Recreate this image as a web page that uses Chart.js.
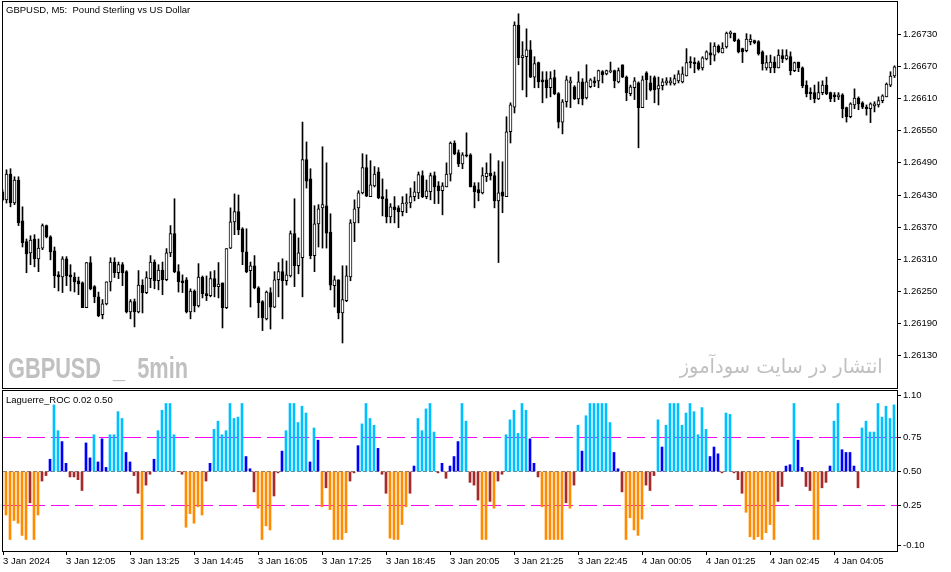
<!DOCTYPE html>
<html>
<head>
<meta charset="utf-8">
<title>GBPUSD M5 - Laguerre ROC</title>
<script src="https://cdn.jsdelivr.net/npm/chart.js@4.4.1/dist/chart.umd.min.js"></script>
<style>
  html, body { margin: 0; padding: 0; background: #fff; }
  #wrap { position: relative; width: 951px; height: 572px; overflow: hidden; background: #fff; }
  canvas { position: absolute; left: 0; }
  #priceChart { top: 0; }
  #rocChart { top: 389px; }
  .txt { position: absolute; white-space: nowrap; pointer-events: none; z-index: 2; }
  #title { left: 6px; top: 5px; font: 9.5px/10px "Liberation Sans", Arial, sans-serif; color: #000; }
  #rocTitle { left: 6px; top: 395px; font: 9.5px/10px "Liberation Sans", Arial, sans-serif; color: #000; }
  #mark { left: 8px; top: 354px; font: bold 29px/29px "Liberation Sans", Arial, sans-serif; color: #c0c0c0;
          word-spacing: 8px; transform-origin: left top; }
  #markFa { right: 68px; top: 356px; font: 20px/20px "DejaVu Sans", sans-serif; color: #c0c0c0;
            direction: rtl; transform-origin: right top; }
</style>
</head>
<body>
<div id="wrap">
  <canvas id="priceChart" width="951" height="390"></canvas>
  <canvas id="rocChart" width="951" height="183"></canvas>
  <div class="txt" id="title">GBPUSD, M5:&nbsp; Pound Sterling vs US Dollar</div>
  <div class="txt" id="rocTitle">Laguerre_ROC 0.02 0.50</div>
  <div class="txt" id="mark">GBPUSD _ 5min</div>
  <div class="txt" id="markFa" dir="rtl">انتشار در سایت سودآموز</div>
</div>
<script>
// M5 candles, 3 Jan 2024 10:45 -> 4 Jan 05:20
const openPx = [
  1.26436, 1.26421, 1.26469, 1.26415, 1.26458, 1.26382, 1.26343, 1.26322, 1.26348, 1.26311,
  1.26331, 1.26373, 1.26352, 1.26326, 1.26281, 1.26277, 1.26311, 1.26281, 1.26277, 1.26270,
  1.26266, 1.26220, 1.26304, 1.26259, 1.26240, 1.26207, 1.26227, 1.26268, 1.26305, 1.26285,
  1.26300, 1.26287, 1.26212, 1.26231, 1.26212, 1.26262, 1.26248, 1.26274, 1.26305, 1.26270,
  1.26290, 1.26272, 1.26322, 1.26358, 1.26287, 1.26270, 1.26272, 1.26212, 1.26251, 1.26223,
  1.26277, 1.26246, 1.26242, 1.26274, 1.26259, 1.26266, 1.26220, 1.26331, 1.26380, 1.26399,
  1.26367, 1.26324, 1.26289, 1.26298, 1.26257, 1.26231, 1.26199, 1.26248, 1.26221, 1.26272,
  1.26287, 1.26270, 1.26279, 1.26358, 1.26298, 1.26313, 1.26496, 1.26460, 1.26317, 1.26376,
  1.26406, 1.26410, 1.26361, 1.26261, 1.26272, 1.26210, 1.26233, 1.26277, 1.26378, 1.26406,
  1.26434, 1.26481, 1.26427, 1.26447, 1.26473, 1.26427, 1.26423, 1.26389, 1.26408, 1.26406,
  1.26399, 1.26414, 1.26415, 1.26427, 1.26434, 1.26466, 1.26427, 1.26436, 1.26466, 1.26447,
  1.26438, 1.26445, 1.26469, 1.26527, 1.26509, 1.26488, 1.26505, 1.26505, 1.26447, 1.26440,
  1.26434, 1.26464, 1.26471, 1.26466, 1.26419, 1.26436, 1.26427, 1.26548, 1.26594, 1.26747,
  1.26686, 1.26688, 1.26701, 1.26650, 1.26677, 1.26645, 1.26645, 1.26630, 1.26649, 1.26619,
  1.26566, 1.26604, 1.26639, 1.26632, 1.26609, 1.26641, 1.26611, 1.26632, 1.26643, 1.26643,
  1.26660, 1.26656, 1.26660, 1.26662, 1.26641, 1.26673, 1.26650, 1.26619, 1.26630, 1.26639,
  1.26593, 1.26658, 1.26639, 1.26649, 1.26628, 1.26634, 1.26639, 1.26639, 1.26637, 1.26643,
  1.26641, 1.26652, 1.26678, 1.26678, 1.26677, 1.26667, 1.26684, 1.26695, 1.26691, 1.26708,
  1.26695, 1.26706, 1.26731, 1.26732, 1.26719, 1.26703, 1.26699, 1.26716, 1.26718, 1.26716,
  1.26697, 1.26667, 1.26667, 1.26678, 1.26667, 1.26690, 1.26684, 1.26688, 1.26662, 1.26678,
  1.26667, 1.26635, 1.26622, 1.26621, 1.26609, 1.26621, 1.26635, 1.26621, 1.26617, 1.26613,
  1.26617, 1.26593, 1.26576, 1.26598, 1.26611, 1.26602, 1.26594, 1.26591, 1.26596, 1.26598,
  1.26606, 1.26613, 1.26635, 1.26652
];
const highPx = [
  1.26440, 1.26477, 1.26479, 1.26464, 1.26464, 1.26408, 1.26348, 1.26354, 1.26356, 1.26348,
  1.26376, 1.26374, 1.26354, 1.26333, 1.26287, 1.26315, 1.26315, 1.26300, 1.26285, 1.26277,
  1.26268, 1.26304, 1.26315, 1.26261, 1.26249, 1.26235, 1.26268, 1.26313, 1.26313, 1.26305,
  1.26304, 1.26289, 1.26235, 1.26236, 1.26289, 1.26272, 1.26287, 1.26317, 1.26309, 1.26300,
  1.26305, 1.26330, 1.26373, 1.26423, 1.26300, 1.26281, 1.26276, 1.26255, 1.26253, 1.26302,
  1.26279, 1.26279, 1.26287, 1.26289, 1.26304, 1.26266, 1.26330, 1.26406, 1.26432, 1.26430,
  1.26369, 1.26367, 1.26305, 1.26317, 1.26259, 1.26233, 1.26251, 1.26257, 1.26287, 1.26304,
  1.26311, 1.26307, 1.26363, 1.26423, 1.26350, 1.26566, 1.26529, 1.26479, 1.26410, 1.26412,
  1.26520, 1.26490, 1.26395, 1.26279, 1.26272, 1.26298, 1.26298, 1.26384, 1.26421, 1.26438,
  1.26507, 1.26505, 1.26494, 1.26483, 1.26481, 1.26460, 1.26440, 1.26414, 1.26427, 1.26410,
  1.26427, 1.26432, 1.26443, 1.26455, 1.26473, 1.26475, 1.26458, 1.26471, 1.26473, 1.26455,
  1.26453, 1.26490, 1.26529, 1.26531, 1.26514, 1.26509, 1.26546, 1.26507, 1.26453, 1.26453,
  1.26481, 1.26490, 1.26507, 1.26473, 1.26494, 1.26492, 1.26576, 1.26602, 1.26753, 1.26768,
  1.26716, 1.26740, 1.26718, 1.26688, 1.26678, 1.26660, 1.26660, 1.26660, 1.26663, 1.26621,
  1.26608, 1.26652, 1.26650, 1.26634, 1.26660, 1.26647, 1.26673, 1.26647, 1.26650, 1.26663,
  1.26662, 1.26663, 1.26678, 1.26663, 1.26667, 1.26673, 1.26652, 1.26635, 1.26649, 1.26641,
  1.26652, 1.26660, 1.26652, 1.26652, 1.26650, 1.26647, 1.26649, 1.26649, 1.26654, 1.26662,
  1.26669, 1.26703, 1.26688, 1.26686, 1.26680, 1.26688, 1.26699, 1.26714, 1.26714, 1.26710,
  1.26714, 1.26734, 1.26736, 1.26732, 1.26721, 1.26704, 1.26731, 1.26729, 1.26719, 1.26718,
  1.26699, 1.26690, 1.26691, 1.26688, 1.26701, 1.26701, 1.26701, 1.26697, 1.26678, 1.26678,
  1.26669, 1.26643, 1.26630, 1.26635, 1.26641, 1.26643, 1.26650, 1.26622, 1.26621, 1.26621,
  1.26619, 1.26594, 1.26602, 1.26628, 1.26613, 1.26604, 1.26598, 1.26602, 1.26604, 1.26613,
  1.26617, 1.26639, 1.26660, 1.26671
];
const lowPx = [
  1.26419, 1.26415, 1.26408, 1.26412, 1.26373, 1.26333, 1.26285, 1.26300, 1.26296, 1.26287,
  1.26328, 1.26350, 1.26309, 1.26257, 1.26251, 1.26248, 1.26261, 1.26251, 1.26249, 1.26244,
  1.26220, 1.26220, 1.26253, 1.26229, 1.26203, 1.26199, 1.26225, 1.26251, 1.26276, 1.26274,
  1.26261, 1.26210, 1.26199, 1.26184, 1.26210, 1.26210, 1.26246, 1.26257, 1.26255, 1.26253,
  1.26244, 1.26270, 1.26315, 1.26285, 1.26249, 1.26248, 1.26210, 1.26199, 1.26212, 1.26221,
  1.26238, 1.26233, 1.26240, 1.26240, 1.26238, 1.26182, 1.26218, 1.26330, 1.26356, 1.26356,
  1.26300, 1.26285, 1.26221, 1.26255, 1.26201, 1.26177, 1.26197, 1.26180, 1.26220, 1.26240,
  1.26199, 1.26262, 1.26277, 1.26259, 1.26283, 1.26240, 1.26443, 1.26311, 1.26287, 1.26333,
  1.26331, 1.26331, 1.26253, 1.26221, 1.26199, 1.26154, 1.26231, 1.26270, 1.26343, 1.26378,
  1.26432, 1.26427, 1.26427, 1.26445, 1.26423, 1.26391, 1.26378, 1.26378, 1.26378, 1.26369,
  1.26391, 1.26397, 1.26406, 1.26419, 1.26423, 1.26425, 1.26423, 1.26421, 1.26414, 1.26414,
  1.26393, 1.26445, 1.26456, 1.26505, 1.26483, 1.26479, 1.26501, 1.26445, 1.26406, 1.26419,
  1.26432, 1.26455, 1.26458, 1.26406, 1.26304, 1.26397, 1.26427, 1.26527, 1.26583, 1.26673,
  1.26626, 1.26613, 1.26649, 1.26630, 1.26630, 1.26602, 1.26611, 1.26613, 1.26617, 1.26555,
  1.26544, 1.26594, 1.26593, 1.26608, 1.26600, 1.26598, 1.26609, 1.26630, 1.26632, 1.26630,
  1.26639, 1.26654, 1.26658, 1.26630, 1.26639, 1.26649, 1.26606, 1.26615, 1.26608, 1.26518,
  1.26593, 1.26608, 1.26624, 1.26602, 1.26598, 1.26626, 1.26635, 1.26635, 1.26635, 1.26639,
  1.26639, 1.26652, 1.26667, 1.26658, 1.26663, 1.26663, 1.26682, 1.26673, 1.26680, 1.26695,
  1.26695, 1.26704, 1.26723, 1.26716, 1.26695, 1.26677, 1.26697, 1.26710, 1.26712, 1.26691,
  1.26663, 1.26663, 1.26658, 1.26658, 1.26667, 1.26677, 1.26682, 1.26654, 1.26660, 1.26660,
  1.26630, 1.26613, 1.26608, 1.26602, 1.26608, 1.26617, 1.26617, 1.26604, 1.26604, 1.26608,
  1.26574, 1.26566, 1.26574, 1.26591, 1.26589, 1.26591, 1.26579, 1.26565, 1.26585, 1.26594,
  1.26602, 1.26613, 1.26632, 1.26649
];
const closePx = [
  1.26421, 1.26469, 1.26415, 1.26458, 1.26378, 1.26341, 1.26320, 1.26346, 1.26311, 1.26331,
  1.26373, 1.26352, 1.26324, 1.26279, 1.26277, 1.26311, 1.26279, 1.26277, 1.26268, 1.26264,
  1.26220, 1.26304, 1.26255, 1.26240, 1.26205, 1.26227, 1.26268, 1.26305, 1.26285, 1.26300,
  1.26285, 1.26212, 1.26231, 1.26212, 1.26262, 1.26248, 1.26276, 1.26305, 1.26270, 1.26290,
  1.26272, 1.26322, 1.26358, 1.26287, 1.26268, 1.26266, 1.26212, 1.26251, 1.26223, 1.26277,
  1.26246, 1.26242, 1.26274, 1.26259, 1.26264, 1.26220, 1.26330, 1.26380, 1.26399, 1.26365,
  1.26324, 1.26287, 1.26298, 1.26257, 1.26229, 1.26201, 1.26249, 1.26221, 1.26272, 1.26287,
  1.26270, 1.26281, 1.26358, 1.26298, 1.26322, 1.26496, 1.26456, 1.26317, 1.26376, 1.26404,
  1.26412, 1.26359, 1.26262, 1.26272, 1.26210, 1.26235, 1.26279, 1.26378, 1.26404, 1.26434,
  1.26481, 1.26428, 1.26449, 1.26469, 1.26425, 1.26423, 1.26389, 1.26408, 1.26402, 1.26399,
  1.26415, 1.26415, 1.26427, 1.26436, 1.26468, 1.26427, 1.26438, 1.26466, 1.26445, 1.26438,
  1.26447, 1.26469, 1.26527, 1.26507, 1.26488, 1.26505, 1.26503, 1.26445, 1.26436, 1.26434,
  1.26466, 1.26471, 1.26466, 1.26419, 1.26434, 1.26428, 1.26548, 1.26598, 1.26747, 1.26686,
  1.26690, 1.26701, 1.26650, 1.26675, 1.26641, 1.26641, 1.26630, 1.26647, 1.26619, 1.26566,
  1.26604, 1.26645, 1.26643, 1.26609, 1.26641, 1.26609, 1.26641, 1.26645, 1.26639, 1.26662,
  1.26654, 1.26662, 1.26662, 1.26643, 1.26662, 1.26650, 1.26621, 1.26632, 1.26643, 1.26593,
  1.26645, 1.26645, 1.26626, 1.26626, 1.26634, 1.26641, 1.26643, 1.26643, 1.26647, 1.26656,
  1.26656, 1.26677, 1.26677, 1.26675, 1.26665, 1.26686, 1.26697, 1.26691, 1.26708, 1.26697,
  1.26704, 1.26732, 1.26734, 1.26718, 1.26697, 1.26697, 1.26721, 1.26721, 1.26714, 1.26693,
  1.26675, 1.26677, 1.26678, 1.26667, 1.26691, 1.26684, 1.26690, 1.26662, 1.26677, 1.26667,
  1.26634, 1.26619, 1.26619, 1.26609, 1.26621, 1.26635, 1.26619, 1.26609, 1.26613, 1.26617,
  1.26591, 1.26576, 1.26600, 1.26611, 1.26600, 1.26594, 1.26591, 1.26600, 1.26600, 1.26606,
  1.26615, 1.26637, 1.26652, 1.26669
];

// Laguerre ROC value per candle
const rocValues = [
  0.22, 0.18, 0.00, 0.14, 0.12, 0.03, 0.00, 0.27, 0.00, 0.18,
  0.43, 0.47, 0.59, 0.99, 0.80, 0.72, 0.56, 0.46, 0.46, 0.44,
  0.36, 0.71, 0.60, 0.77, 0.57, 0.74, 0.53, 0.77, 0.77, 0.94,
  0.89, 0.64, 0.57, 0.47, 0.34, 0.00, 0.40, 0.48, 0.59, 0.80,
  0.95, 1.00, 1.00, 0.77, 0.50, 0.48, 0.09, 0.19, 0.12, 0.24,
  0.18, 0.43, 0.56, 0.81, 0.87, 0.77, 0.80, 1.00, 0.89, 0.90,
  1.00, 0.61, 0.52, 0.35, 0.23, 0.00, 0.10, 0.07, 0.32, 0.49,
  0.65, 0.80, 1.00, 1.00, 0.86, 0.98, 0.93, 0.57, 0.82, 0.73,
  0.24, 0.38, 0.22, 0.00, 0.00, 0.00, 0.05, 0.43, 0.49, 0.69,
  0.85, 1.00, 0.89, 0.84, 0.67, 0.48, 0.34, 0.01, 0.00, 0.00,
  0.11, 0.24, 0.34, 0.54, 0.89, 0.80, 0.96, 1.00, 0.79, 0.49,
  0.56, 0.45, 0.54, 0.61, 0.72, 1.00, 0.87, 0.42, 0.40, 0.29,
  0.00, 0.00, 0.28, 0.23, 0.43, 0.48, 0.77, 0.88, 0.95, 0.78,
  1.00, 0.95, 0.74, 0.56, 0.46, 0.24, 0.00, 0.00, 0.00, 0.00,
  0.00, 0.27, 0.23, 0.40, 0.84, 0.65, 0.91, 1.00, 1.00, 1.00,
  1.00, 1.00, 0.86, 0.64, 0.52, 0.35, 0.00, 0.16, 0.07, 0.03,
  0.15, 0.40, 0.36, 0.47, 0.88, 0.68, 0.84, 1.00, 1.00, 1.00,
  0.84, 0.93, 1.00, 0.94, 0.77, 0.97, 0.81, 0.61, 0.68, 0.63,
  0.49, 0.93, 0.92, 0.49, 0.44, 0.34, 0.20, 0.02, 0.00, 0.02,
  0.00, 0.05, 0.11, 0.00, 0.28, 0.39, 0.54, 0.55, 1.00, 0.73,
  0.53, 0.39, 0.36, 0.00, 0.00, 0.38, 0.42, 0.54, 0.87, 1.00,
  0.66, 0.64, 0.64, 0.54, 0.38, 0.82, 0.87, 0.79, 0.79, 1.00,
  0.90, 0.98, 0.89, 0.99
];
const rocLevels = [0.25, 0.5, 0.75];

// axis ticks
const priceTicks = [1.26130, 1.26190, 1.26250, 1.26310, 1.26370, 1.26430, 1.26490, 1.26550, 1.26610, 1.26670, 1.26730];
const rocTicks = [0.25, 0.5, 0.75];
const rocEdgeTicks = [1.10, -0.10];
const timeTickIdx = [0, 16, 32, 48, 64, 80, 96, 112, 128, 144, 160, 176, 192, 208];
const timeLabels = [
  '3 Jan 2024', '3 Jan 12:05', '3 Jan 13:25', '3 Jan 14:45', '3 Jan 16:05', '3 Jan 17:25', '3 Jan 18:45',
  '3 Jan 20:05', '3 Jan 21:25', '3 Jan 22:45', '4 Jan 00:05', '4 Jan 01:25', '4 Jan 02:45', '4 Jan 04:05'
];

const FONT = '"Liberation Sans", Arial, sans-serif';
const AXIS_W = 54;
const idx = closePx.map((_, i) => i);

// indicator window range, nudged a hair so the level lines land on whole pixels
const rocAxisMax = 1.0919;
const rocAxisMin = -0.0846;

Chart.defaults.font.family = FONT;
Chart.defaults.font.size = 9.5;
Chart.defaults.color = '#000';
Chart.defaults.animation = false;

// black frame round each panel, like the terminal draws it
const panelFrame = {
  id: 'panelFrame',
  afterDraw(chart) {
    const a = chart.chartArea, ctx = chart.ctx;
    ctx.save();
    ctx.strokeStyle = '#000';
    ctx.lineWidth = 1;
    ctx.strokeRect(a.left - 0.5, a.top - 0.5, a.right - a.left + 1, a.bottom - a.top + 1);
    ctx.restore();
  }
};

// the min/max labels of the indicator window sit a little inside the panel
const edgeLabels = {
  id: 'edgeLabels',
  afterDraw(chart) {
    const s = chart.scales.y, ctx = chart.ctx;
    const ys = [s.top + 4, s.bottom - 6];
    ctx.save();
    ctx.font = '9.5px ' + FONT;
    ctx.fillStyle = '#000';
    ctx.strokeStyle = '#000';
    ctx.textBaseline = 'middle';
    rocEdgeTicks.forEach((v, k) => {
      const y = Math.round(ys[k]) + 0.5;
      ctx.beginPath();
      ctx.moveTo(s.left, y);
      ctx.lineTo(s.left + 4, y);
      ctx.stroke();
      ctx.fillText(v.toFixed(2), s.left + 6, y);
    });
    ctx.restore();
  }
};

// no extra room for half-labels: the panels run edge to edge
function noLabelPadding(s) {
  s.paddingTop = 0; s.paddingBottom = 0; s.paddingLeft = 0; s.paddingRight = 0;
}

function rightAxis(min, max, ticks, digits) {
  return {
    position: 'right', min: min, max: max,
    afterFit: s => { s.width = AXIS_W; noLabelPadding(s); },
    afterBuildTicks: s => { s.ticks = ticks.map(v => ({ value: v })); },
    border: { display: false },
    grid: { drawOnChartArea: false, drawTicks: true, tickLength: 4, tickColor: '#000' },
    ticks: { padding: 2, callback: v => Number(v).toFixed(digits) }
  };
}

new Chart(document.getElementById('priceChart'), {
  type: 'bar',
  data: {
    datasets: [
      {
        label: 'body',
        data: idx.map(i => ({ x: i, y: [openPx[i], closePx[i]] })),
        backgroundColor: c => closePx[c.dataIndex] > openPx[c.dataIndex] ? '#ffffff' : '#000000',
        borderColor: '#000', borderWidth: 1, borderSkipped: false,
        barThickness: 3, minBarLength: 1, grouped: false, order: 1
      },
      {
        label: 'wick',
        data: idx.map(i => ({ x: i, y: [lowPx[i], highPx[i]] })),
        backgroundColor: '#000', borderWidth: 0,
        barThickness: 1, grouped: false, order: 2
      }
    ]
  },
  options: {
    responsive: false, maintainAspectRatio: false, devicePixelRatio: 1, events: [],
    layout: { padding: { left: 3, top: 2, right: 0, bottom: 2 } },
    plugins: { legend: { display: false }, tooltip: { enabled: false } },
    scales: {
      x: { type: 'linear', display: false, offset: false, min: 0.125, max: 223.625 },
      y: rightAxis(1.2607, 1.2679, priceTicks, 5)
    }
  },
  plugins: [panelFrame]
});

function rocColor(v) {
  if (v > 0.75) return '#00bfff';
  if (v > 0.5) return '#0000ff';
  if (v >= 0.25) return '#a52a2a';
  return '#ff8c00';
}

const xMin = 0.25, xMax = 223.75;
function levelLine(level, color, dash) {
  return {
    type: 'line',
    data: [{ x: xMin, y: level }, { x: xMax, y: level }],
    borderColor: color, borderWidth: 1, borderDash: dash,
    pointRadius: 0, fill: false, order: 2
  };
}

new Chart(document.getElementById('rocChart'), {
  type: 'bar',
  data: {
    datasets: [
      {
        label: 'Laguerre_ROC',
        data: idx.map(i => ({ x: i, y: rocValues[i] })),
        base: rocLevels[1],
        backgroundColor: c => rocColor(rocValues[c.dataIndex]),
        borderWidth: 0, barThickness: 2, grouped: false, order: 1
      },
      levelLine(rocLevels[2], '#ff00ff', [18, 6]),
      levelLine(rocLevels[0], '#ff00ff', [18, 6]),
      levelLine(rocLevels[1], '#808080', [4, 2])
    ]
  },
  options: {
    responsive: false, maintainAspectRatio: false, devicePixelRatio: 1, events: [],
    layout: { padding: { left: 3, top: 2, right: 0, bottom: 0 } },
    plugins: { legend: { display: false }, tooltip: { enabled: false } },
    scales: {
      x: {
        type: 'linear', offset: false, min: xMin, max: xMax,
        afterFit: s => { s.height = 21; noLabelPadding(s); },
        afterBuildTicks: s => { s.ticks = timeTickIdx.map(v => ({ value: Math.max(v, xMin) })); },
        border: { display: false },
        grid: { drawOnChartArea: false, drawTicks: true, tickLength: 4, tickColor: '#000', offset: false },
        ticks: {
          autoSkip: false, maxRotation: 0, minRotation: 0, align: 'start', padding: 1,
          callback: (v, i) => timeLabels[i]
        }
      },
      y: rightAxis(rocAxisMin, rocAxisMax, rocTicks, 2)
    }
  },
  plugins: [panelFrame, edgeLabels]
});

// squeeze the watermark texts to the width they have on the terminal
function fitWidth(id, target) {
  const el = document.getElementById(id);
  const w = el.getBoundingClientRect().width;
  if (w > 0) el.style.transform = 'scaleX(' + (target / w) + ')';
}
fitWidth('mark', 180);
fitWidth('markFa', 203);
</script>
</body>
</html>
